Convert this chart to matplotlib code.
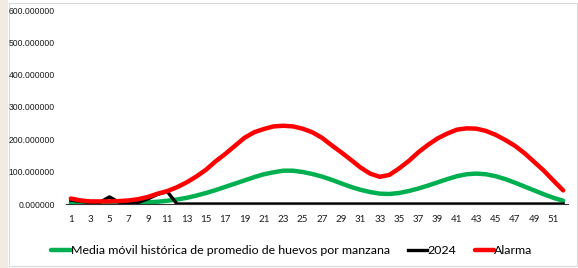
import matplotlib.pyplot as plt
import numpy as np
from matplotlib.patches import Rectangle

weeks = list(range(1, 53))

media_movil = [4, 3, 3, 2, 2, 2, 2, 3, 5, 7, 10, 14, 19, 26, 34, 43, 53, 63, 73, 83, 92, 98, 103, 103, 99, 93, 85, 75, 64, 53, 44, 37, 32, 31, 34, 40, 48, 57, 67, 77, 86, 92, 94, 92, 86, 77, 66, 54, 42, 30, 19, 10]

serie_2024 = [12, 8, 5, 5, 22, 5, 2, 5, 16, 30, 38, 0] + [0] * 40

alarma = [17, 11, 8, 8, 8, 9, 11, 15, 22, 32, 40, 52, 67, 85, 106, 132, 155, 180, 205, 222, 232, 240, 242, 240, 233, 222, 205, 182, 160, 137, 113, 94, 84, 90, 110, 133, 160, 183, 203, 218, 230, 234, 233, 226, 214, 198, 180, 157, 130, 103, 72, 42]

plt.rcParams['font.family'] = ['Lato', 'DejaVu Sans']

fig = plt.figure(figsize=(5.78, 2.68), dpi=100)
ax = fig.add_axes([66 / 578, 1 - 204 / 268, 502 / 578, 194 / 268])

ax.plot(weeks, media_movil, color='#00b050', lw=3.2, solid_capstyle='round',
        label='Media móvil histórica de promedio de huevos por manzana')
ax.plot(weeks, serie_2024, color='black', lw=2.4,
        label='2024')
ax.plot(weeks, alarma, color='#ff0000', lw=3.2, solid_capstyle='round',
        label='Alarma')

ax.set_xlim(0.5, 52.5)
ax.set_ylim(0, 600)
ax.set_xticks(weeks[::2])
ax.set_xticklabels([str(w) for w in weeks[::2]])
ax.set_yticks(range(0, 601, 100))
ax.set_yticklabels([f'{v:.6f}' for v in range(0, 601, 100)],
                   family=['Liberation Sans', 'DejaVu Sans'], fontsize=6.2)
ax.tick_params(axis='both', length=0, colors='#1a1a1a')
ax.tick_params(axis='y', pad=8)
ax.tick_params(axis='x', pad=8, labelsize=7)
for s in ['top', 'right', 'left']:
    ax.spines[s].set_visible(False)
ax.spines['bottom'].set_color('#333333')
ax.spines['bottom'].set_linewidth(0.8)

leg = fig.legend(loc='center', bbox_to_anchor=(0.505, 1 - 251 / 268), ncol=3,
                 frameon=False, fontsize=8.9, handlelength=1.55,
                 handletextpad=0.0, columnspacing=1.5)

# beige strip and light frame
fig.patches.append(Rectangle((0, 0), 8 / 578, 1, transform=fig.transFigure,
                             facecolor='#f2ebe1', edgecolor='none', zorder=-1))
fig.patches.append(Rectangle((8.5 / 578, 2 / 268), 568 / 578, 263 / 268,
                             transform=fig.transFigure, facecolor='none',
                             edgecolor='#d9d9d9', lw=0.8, zorder=-1))

plt.savefig('out.png', dpi=100)
